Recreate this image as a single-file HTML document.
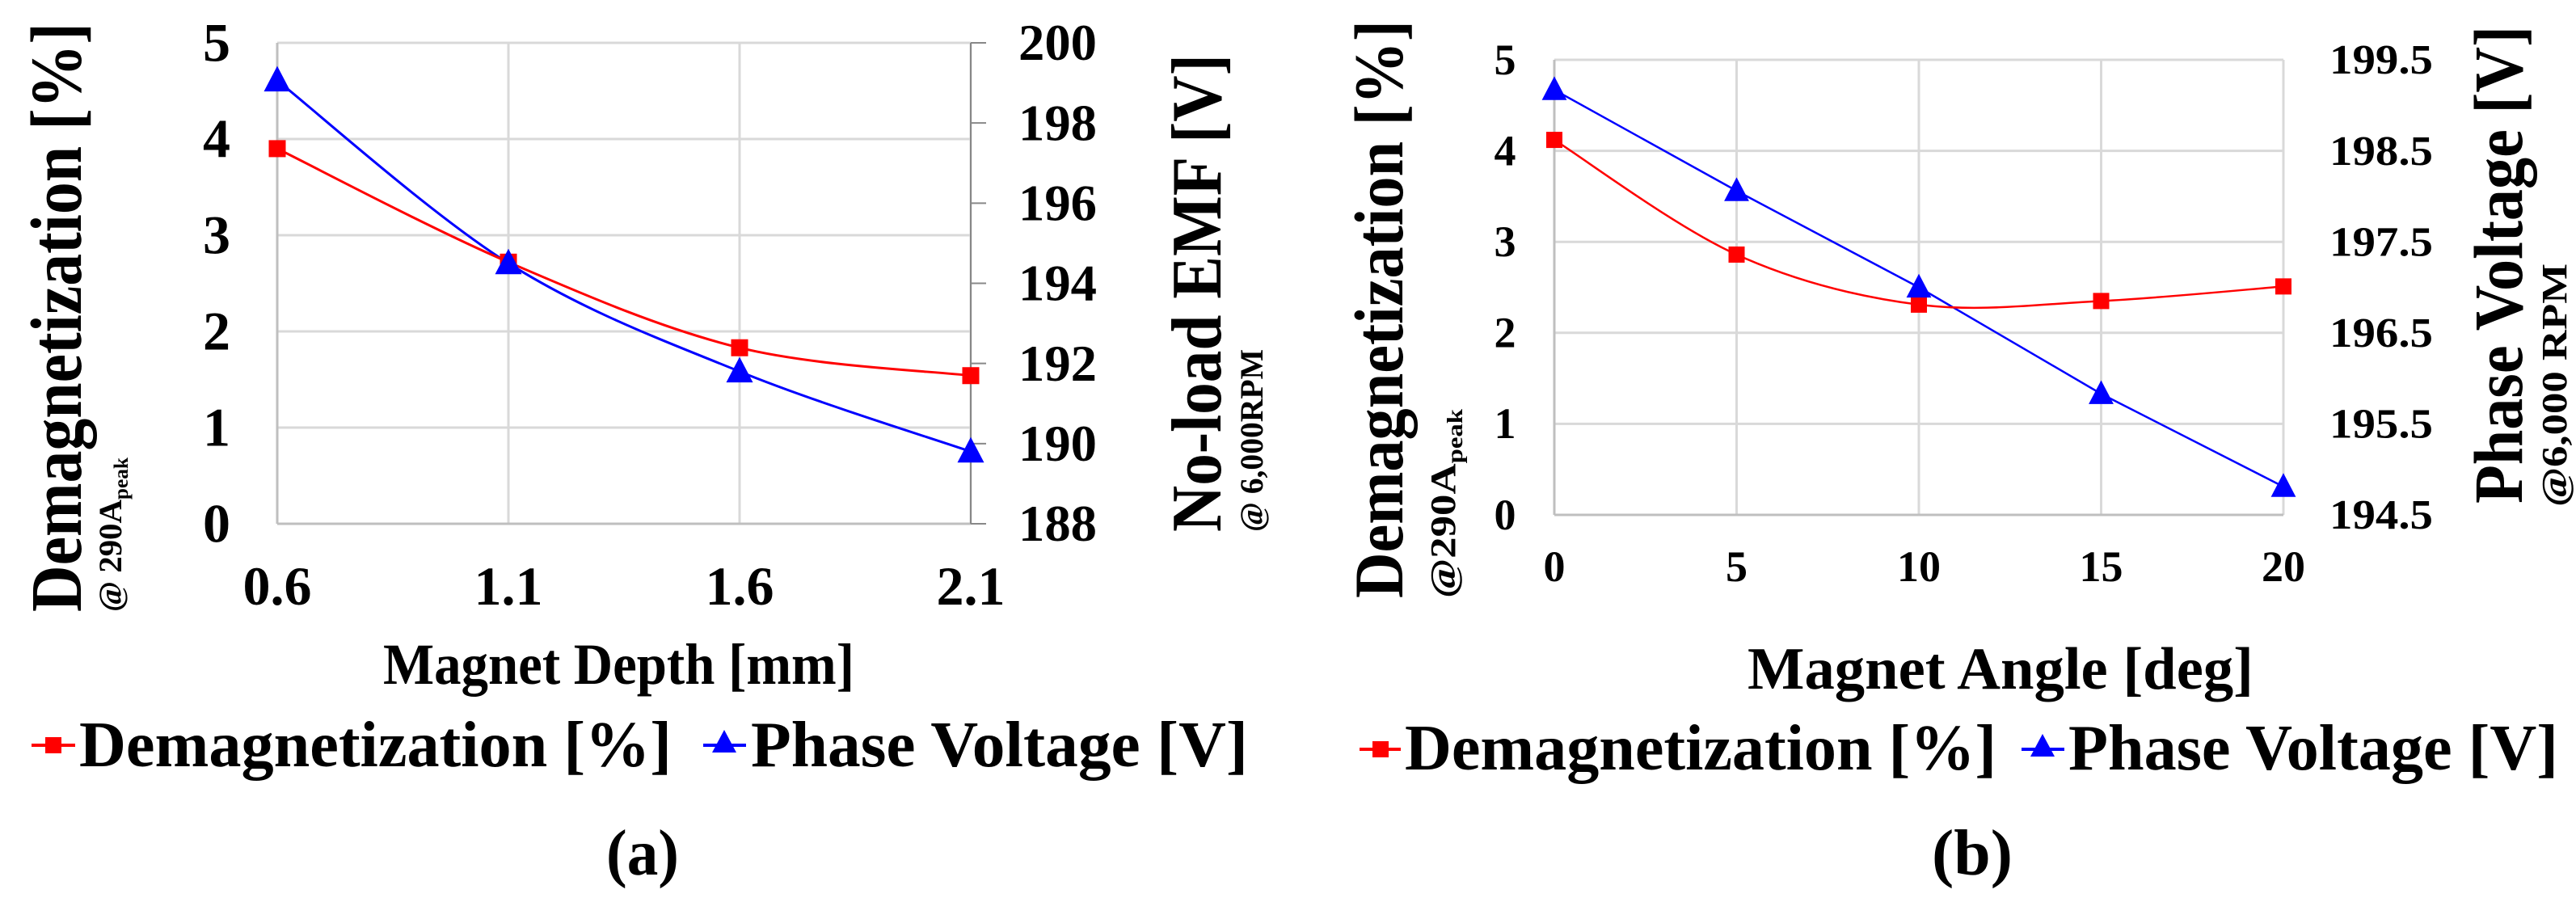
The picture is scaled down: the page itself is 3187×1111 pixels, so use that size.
<!DOCTYPE html>
<html><head><meta charset="utf-8">
<style>
html,body{margin:0;padding:0;background:#fff;}
svg{display:block;}
svg text{font-family:"Liberation Serif","DejaVu Serif",serif !important;font-weight:bold;fill:#000;}
</style></head>
<body>
<svg id="chart" width="3187" height="1111" viewBox="0 0 3187 1111" xmlns="http://www.w3.org/2000/svg" font-family="Liberation Serif, DejaVu Serif, serif" font-weight="bold">
<g id="pa"></g>
<g id="pb"></g>
</svg>
<script>
// Chart (a) data
const aCategories = [0.6, 1.1, 1.6, 2.1];
const aDemag = [3.9, 2.72, 1.83, 1.54];
const aVoltage = [199.06, 194.5, 191.8, 189.8];
const aLeftTicks = ["0","1","2","3","4","5"];
const aRightTicks = ["188","190","192","194","196","198","200"];
const aXTicks = ["0.6","1.1","1.6","2.1"];
// Chart (b) data
const bCategories = [0, 5, 10, 15, 20];
const bDemag = [4.12, 2.86, 2.31, 2.35, 2.51];
const bVoltage = [199.17, 198.06, 197.0, 195.83, 194.81];
const bLeftTicks = ["0","1","2","3","4","5"];
const bRightTicks = ["194.5","195.5","196.5","197.5","198.5","199.5"];
const bXTicks = ["0","5","10","15","20"];

const NS="http://www.w3.org/2000/svg";
function mk(parent,tag,attrs,txt){const e=document.createElementNS(NS,tag);for(const k in attrs)e.setAttribute(k,attrs[k]);if(tag==="text"){e.setAttribute("font-family","Liberation Serif, DejaVu Serif, serif");e.setAttribute("font-weight","bold");}if(txt!==undefined)e.textContent=txt;parent.appendChild(e);return e;}
function smooth(pts){let d="M"+pts[0][0]+","+pts[0][1];for(let i=0;i<pts.length-1;i++){const p0=pts[Math.max(0,i-1)],p1=pts[i],p2=pts[i+1],p3=pts[Math.min(pts.length-1,i+2)];const t=6;d+=" C"+(p1[0]+(p2[0]-p0[0])/t)+","+(p1[1]+(p2[1]-p0[1])/t)+" "+(p2[0]-(p3[0]-p1[0])/t)+","+(p2[1]-(p3[1]-p1[1])/t)+" "+p2[0]+","+p2[1];}return d;}
function straight(pts){return "M"+pts.map(p=>p[0]+","+p[1]).join(" L");}

function draw(g,c){
  const X=v=>c.L+(v-c.xmin)/(c.xmax-c.xmin)*(c.R-c.L);
  const YL=v=>c.B-(v-0)/5*(c.B-c.T);
  const YR=v=>c.B-(v-c.rmin)/(c.rmax-c.rmin)*(c.B-c.T);
  c.lt.forEach((t,i)=>{const y=YL(i);const l=mk(g,"line",{x1:c.L,x2:c.R,y1:y,y2:y,stroke:"#d9d9d9","stroke-width":3});
    
    
    const tx=mk(g,"text",{x:c.llx,y:y+c.lfs*0.33,"font-size":c.lfs,"text-anchor":"middle"},t);
    
    });
  c.cats.forEach((v,i)=>{const x=X(v);const l=mk(g,"line",{x1:x,x2:x,y1:c.T,y2:c.B,stroke:"#d9d9d9","stroke-width":3});
    
    
    const tx=mk(g,"text",{x:x,y:c.xty,"font-size":c.xfs,"text-anchor":"middle"},c.xt[i]);
    
    });
  const ax=mk(g,"line",{x1:c.L,x2:c.L,y1:c.T,y2:c.B,stroke:"#bfbfbf","stroke-width":3});
  
  
  const bx=mk(g,"line",{x1:c.L,x2:c.R,y1:c.B,y2:c.B,stroke:"#bfbfbf","stroke-width":3});
  
  
  if(c.rightAxis){const ra=mk(g,"line",{x1:c.R,x2:c.R,y1:c.T,y2:c.B,stroke:"#888","stroke-width":2});
    
    }
  c.rt.forEach((t,i)=>{const v=parseFloat(t);const y=YR(v);
    if(c.rightAxis){const tk=mk(g,"line",{x1:c.R,x2:c.R+19,y1:y,y2:y,stroke:"#888","stroke-width":2});
      
      }
    const tx=mk(g,"text",{x:c.rlx,y:y+c.rfs*0.33,"font-size":c.rfs,textLength:c.rtw,lengthAdjust:"spacingAndGlyphs"},t);
    
    });
  const rp=c.cats.map((v,i)=>[X(v),YL(c.demag[i])]);
  const bp=c.cats.map((v,i)=>[X(v),YR(c.volt[i])]);
  const bl=mk(g,"path",{d:c.blueSmooth?smooth(bp):straight(bp),fill:"none",stroke:"#0000ff","stroke-width":c.lw});
  
  
  const rl=mk(g,"path",{d:smooth(rp),fill:"none",stroke:"#ff0000","stroke-width":c.lw});
  
  
  rp.forEach(p=>{const s=mk(g,"rect",{x:p[0]-c.ms/2,y:p[1]-c.ms/2,width:c.ms,height:c.ms,fill:"#ff0000"});
    
    });
  bp.forEach(p=>{const h=c.ts;const t=mk(g,"polygon",{points:(p[0])+","+(p[1]-h*0.6)+" "+(p[0]-h*0.55)+","+(p[1]+h*0.45)+" "+(p[0]+h*0.55)+","+(p[1]+h*0.45),fill:"#0000ff"});
    
    });
}
function txt(g,name,s,attrs){const t=mk(g,"text",Object.assign({lengthAdjust:"spacingAndGlyphs"},attrs),s);
  
  return t;}
function vtxt(g,name,s,cx,y1,y2,fs,sub){
  const cy=(y1+y2)/2;const t=mk(g,"text",{transform:"translate("+cx+","+cy+") rotate(-90)","font-size":fs,"text-anchor":"middle",textLength:(y2-y1),lengthAdjust:"spacingAndGlyphs"},s);
  
  
  if(sub){mk(t,"tspan",{"font-size":fs*0.62,dy:fs*0.2},sub);}
  return t;}

const ga=document.getElementById("pa"), gb=document.getElementById("pb");
draw(ga,{L:343,R:1201,T:53,B:648,xmin:0.6,xmax:2.1,rmin:188,rmax:200,cats:aCategories,demag:aDemag,volt:aVoltage,
  lt:aLeftTicks,rt:aRightTicks,xt:aXTicks,llx:268,lfs:68,rlx:1260,rfs:64,rtw:97,xty:748,xfs:68,lw:3,ms:21,ts:30,rightAxis:true,blueSmooth:true});
draw(gb,{L:1923,R:2825,T:74,B:637,xmin:0,xmax:20,rmin:194.5,rmax:199.5,cats:bCategories,demag:bDemag,volt:bVoltage,
  lt:bLeftTicks,rt:bRightTicks,xt:bXTicks,llx:1862,lfs:54,rlx:2882,rfs:52,rtw:128,xty:719,xfs:54,lw:2.5,ms:20,ts:28,rightAxis:false,blueSmooth:false});

vtxt(ga,"left-axis-title","Demagnetization [%]",100,28,757,90);
vtxt(ga,"left-axis-subtitle","@ 290A",150,566,757,40,"peak").setAttribute("textLength",191);
vtxt(ga,"right-axis-title","No-load EMF [V]",1510,67,658,88);
vtxt(ga,"right-axis-subtitle","@ 6,000RPM",1562,432,658,40);
txt(ga,"x-axis-title","Magnet Depth [mm]",{x:474,y:846,"font-size":72,textLength:583});
let m=mk(ga,"line",{x1:39,x2:93,y1:922,y2:922,stroke:"#ff0000","stroke-width":4});
m=mk(ga,"rect",{x:56,y:912,width:20,height:20,fill:"#ff0000"});
txt(ga,"legend-demagnetization","Demagnetization [%]",{x:98,y:948,"font-size":80,textLength:733});
m=mk(ga,"line",{x1:870,x2:923,y1:922,y2:922,stroke:"#0000ff","stroke-width":4});
m=mk(ga,"polygon",{points:"896,903 881,931 911,931",fill:"#0000ff"});
txt(ga,"legend-phase-voltage","Phase Voltage [V]",{x:929,y:948,"font-size":80,textLength:615});
txt(ga,"caption-a","(a)",{x:750,y:1082,"font-size":80,textLength:90});

vtxt(gb,"left-axis-title","Demagnetization [%]",1735,25,740,86);
vtxt(gb,"left-axis-subtitle","@290A",1800,506,740,44,"peak").setAttribute("textLength",234);
vtxt(gb,"right-axis-title","Phase Voltage [V]",3120,32,623,86);
vtxt(gb,"right-axis-subtitle","@6,000 RPM",3175,326,627,44);
txt(gb,"x-axis-title","Magnet Angle [deg]",{x:2162,y:852,"font-size":74,textLength:626});
m=mk(gb,"line",{x1:1682,x2:1733,y1:927,y2:927,stroke:"#ff0000","stroke-width":4});
m=mk(gb,"rect",{x:1698,y:917,width:20,height:20,fill:"#ff0000"});
txt(gb,"legend-demagnetization","Demagnetization [%]",{x:1738,y:952,"font-size":80,textLength:732});
m=mk(gb,"line",{x1:2501,x2:2554,y1:927,y2:927,stroke:"#0000ff","stroke-width":4});
m=mk(gb,"polygon",{points:"2527,908 2512,936 2542,936",fill:"#0000ff"});
txt(gb,"legend-phase-voltage","Phase Voltage [V]",{x:2559,y:952,"font-size":80,textLength:606});
txt(gb,"caption-b","(b)",{x:2390,y:1082,"font-size":80,textLength:100});
</script>
</body></html>
